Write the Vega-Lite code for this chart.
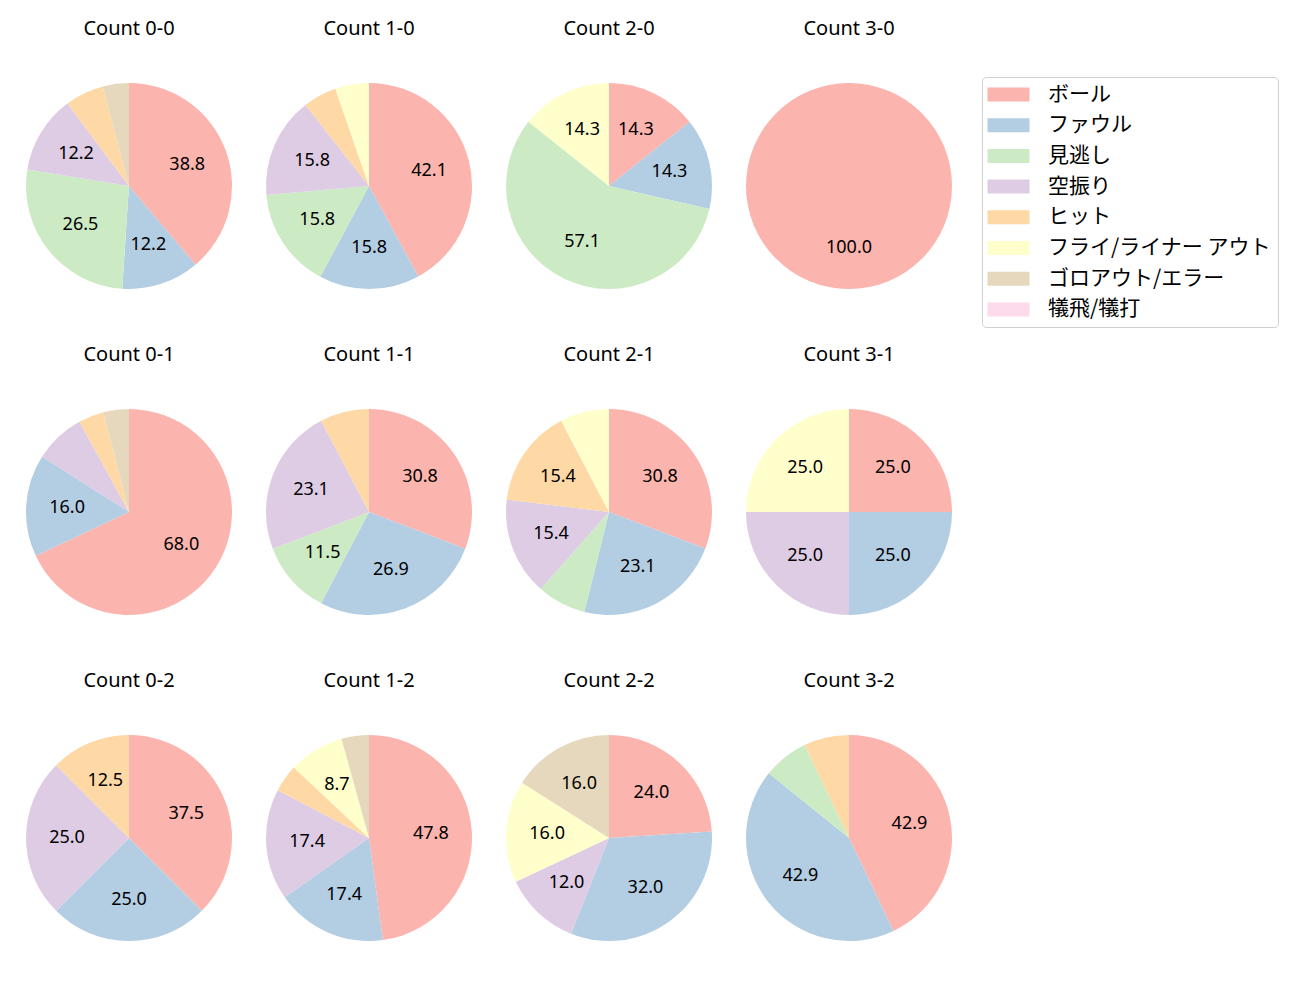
{
  "$schema": "https://vega.github.io/schema/vega-lite/v6.json",
  "padding": {"left": 26, "top": 19, "right": 5, "bottom": 5},
  "background": "white",
  "config": {
    "font": "Noto Sans",
    "view": {"stroke": null},
    "facet": {"spacing": {"column": 34, "row": 56}}
  },
  "data": {"values": [
    {"c": "Count 0-0", "k": 0, "cat": "ボール", "pct": 38.8},
    {"c": "Count 0-0", "k": 1, "cat": "ファウル", "pct": 12.2},
    {"c": "Count 0-0", "k": 2, "cat": "見逃し", "pct": 26.5},
    {"c": "Count 0-0", "k": 3, "cat": "空振り", "pct": 12.2},
    {"c": "Count 0-0", "k": 4, "cat": "ヒット", "pct": 6.1},
    {"c": "Count 0-0", "k": 6, "cat": "ゴロアウト/エラー", "pct": 4.1},
    {"c": "Count 1-0", "k": 0, "cat": "ボール", "pct": 42.1},
    {"c": "Count 1-0", "k": 1, "cat": "ファウル", "pct": 15.8},
    {"c": "Count 1-0", "k": 2, "cat": "見逃し", "pct": 15.8},
    {"c": "Count 1-0", "k": 3, "cat": "空振り", "pct": 15.8},
    {"c": "Count 1-0", "k": 4, "cat": "ヒット", "pct": 5.3},
    {"c": "Count 1-0", "k": 5, "cat": "フライ/ライナー アウト", "pct": 5.3},
    {"c": "Count 2-0", "k": 0, "cat": "ボール", "pct": 14.3},
    {"c": "Count 2-0", "k": 1, "cat": "ファウル", "pct": 14.3},
    {"c": "Count 2-0", "k": 2, "cat": "見逃し", "pct": 57.1},
    {"c": "Count 2-0", "k": 5, "cat": "フライ/ライナー アウト", "pct": 14.3},
    {"c": "Count 3-0", "k": 0, "cat": "ボール", "pct": 100.0},
    {"c": "Count 0-1", "k": 0, "cat": "ボール", "pct": 68.0},
    {"c": "Count 0-1", "k": 1, "cat": "ファウル", "pct": 16.0},
    {"c": "Count 0-1", "k": 3, "cat": "空振り", "pct": 8.0},
    {"c": "Count 0-1", "k": 4, "cat": "ヒット", "pct": 4.0},
    {"c": "Count 0-1", "k": 6, "cat": "ゴロアウト/エラー", "pct": 4.0},
    {"c": "Count 1-1", "k": 0, "cat": "ボール", "pct": 30.8},
    {"c": "Count 1-1", "k": 1, "cat": "ファウル", "pct": 26.9},
    {"c": "Count 1-1", "k": 2, "cat": "見逃し", "pct": 11.5},
    {"c": "Count 1-1", "k": 3, "cat": "空振り", "pct": 23.1},
    {"c": "Count 1-1", "k": 4, "cat": "ヒット", "pct": 7.7},
    {"c": "Count 2-1", "k": 0, "cat": "ボール", "pct": 30.8},
    {"c": "Count 2-1", "k": 1, "cat": "ファウル", "pct": 23.1},
    {"c": "Count 2-1", "k": 2, "cat": "見逃し", "pct": 7.7},
    {"c": "Count 2-1", "k": 3, "cat": "空振り", "pct": 15.4},
    {"c": "Count 2-1", "k": 4, "cat": "ヒット", "pct": 15.4},
    {"c": "Count 2-1", "k": 5, "cat": "フライ/ライナー アウト", "pct": 7.7},
    {"c": "Count 3-1", "k": 0, "cat": "ボール", "pct": 25.0},
    {"c": "Count 3-1", "k": 1, "cat": "ファウル", "pct": 25.0},
    {"c": "Count 3-1", "k": 3, "cat": "空振り", "pct": 25.0},
    {"c": "Count 3-1", "k": 5, "cat": "フライ/ライナー アウト", "pct": 25.0},
    {"c": "Count 0-2", "k": 0, "cat": "ボール", "pct": 37.5},
    {"c": "Count 0-2", "k": 1, "cat": "ファウル", "pct": 25.0},
    {"c": "Count 0-2", "k": 3, "cat": "空振り", "pct": 25.0},
    {"c": "Count 0-2", "k": 4, "cat": "ヒット", "pct": 12.5},
    {"c": "Count 1-2", "k": 0, "cat": "ボール", "pct": 47.8},
    {"c": "Count 1-2", "k": 1, "cat": "ファウル", "pct": 17.4},
    {"c": "Count 1-2", "k": 3, "cat": "空振り", "pct": 17.4},
    {"c": "Count 1-2", "k": 4, "cat": "ヒット", "pct": 4.3},
    {"c": "Count 1-2", "k": 5, "cat": "フライ/ライナー アウト", "pct": 8.7},
    {"c": "Count 1-2", "k": 6, "cat": "ゴロアウト/エラー", "pct": 4.3},
    {"c": "Count 2-2", "k": 0, "cat": "ボール", "pct": 24.0},
    {"c": "Count 2-2", "k": 1, "cat": "ファウル", "pct": 32.0},
    {"c": "Count 2-2", "k": 3, "cat": "空振り", "pct": 12.0},
    {"c": "Count 2-2", "k": 5, "cat": "フライ/ライナー アウト", "pct": 16.0},
    {"c": "Count 2-2", "k": 6, "cat": "ゴロアウト/エラー", "pct": 16.0},
    {"c": "Count 3-2", "k": 0, "cat": "ボール", "pct": 42.9},
    {"c": "Count 3-2", "k": 1, "cat": "ファウル", "pct": 42.9},
    {"c": "Count 3-2", "k": 2, "cat": "見逃し", "pct": 7.1},
    {"c": "Count 3-2", "k": 4, "cat": "ヒット", "pct": 7.1}
  ]},
  "facet": {
    "field": "c",
    "type": "nominal",
    "sort": ["Count 0-0", "Count 1-0", "Count 2-0", "Count 3-0", "Count 0-1", "Count 1-1", "Count 2-1", "Count 3-1", "Count 0-2", "Count 1-2", "Count 2-2", "Count 3-2"],
    "title": null,
    "header": {"labelFontSize": 20, "labelColor": "black", "labelPadding": 44, "labelFont": "Noto Sans"}
  },
  "columns": 4,
  "spec": {
    "width": 206,
    "height": 206,
    "encoding": {
      "theta": {"field": "pct", "type": "quantitative", "stack": true},
      "order": {"field": "k", "type": "quantitative"}
    },
    "layer": [
      {
        "mark": {"type": "arc", "outerRadius": 103},
        "encoding": {
          "color": {
            "field": "cat",
            "type": "nominal",
            "scale": {
              "domain": ["ボール", "ファウル", "見逃し", "空振り", "ヒット", "フライ/ライナー アウト", "ゴロアウト/エラー", "犠飛/犠打"],
              "range": ["#fbb4ae", "#b3cde3", "#ccebc5", "#decbe4", "#fed9a6", "#ffffcc", "#e5d8bd", "#fddaec"]
            },
            "legend": {
              "title": null,
              "orient": "none",
              "legendX": 956,
              "legendY": -6,
              "labelFontSize": 21,
              "labelColor": "black",
              "labelFont": "Noto Sans CJK JP",
              "labelLimit": 400,
              "symbolType": "M-2.1,-0.7H2.1V0.7H-2.1Z",
              "symbolSize": 400,
              "symbolStrokeWidth": 0,
              "symbolOpacity": 1,
              "symbolOffset": 9,
              "labelOffset": 29,
              "rowPadding": 8.7,
              "strokeColor": "#d0d0d0",
              "cornerRadius": 4,
              "padding": 7
            }
          }
        }
      },
      {
        "mark": {"type": "text", "radius": 62, "fontSize": 18, "color": "black", "font": "Noto Sans"},
        "encoding": {
          "text": {
            "condition": {"test": "datum.pct > 8", "field": "pct", "type": "quantitative", "format": ".1f"},
            "value": ""
          }
        }
      }
    ]
  }
}
